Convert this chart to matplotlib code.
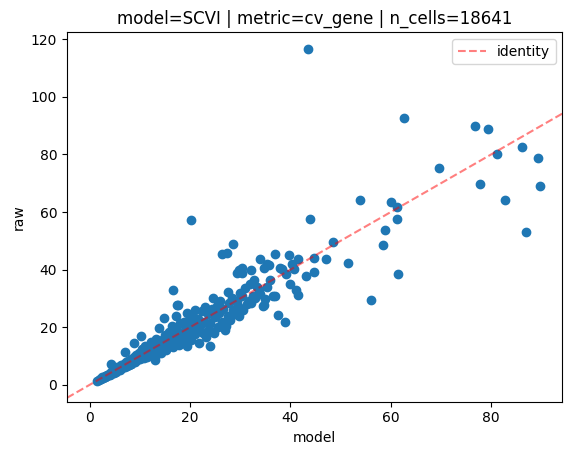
import matplotlib
matplotlib.use("Agg")
import matplotlib.pyplot as plt

# per-gene CV: model-reconstructed vs raw counts
model_low = [1.5, 1.8, 2.0, 2.2, 2.5, 2.7, 3.0, 3.1, 3.4, 3.5, 3.8, 4.0, 4.2, 4.3,
             4.6, 4.8, 5.0, 5.2, 5.5, 5.6, 5.9, 6.0, 6.3, 6.5, 6.8, 7.0, 7.2, 7.4,
             7.7, 7.9, 8.2, 8.3, 8.6, 8.8, 9.0, 9.3, 9.5, 9.8, 10.0, 4.3, 7.0, 5.7,
             3.1, 8.3]
raw_low = [1.5, 1.6, 2.2, 1.9, 2.6, 2.3, 3.1, 2.7, 3.6, 3.0, 3.9, 3.4, 4.6, 3.8,
           5.2, 4.2, 5.6, 4.6, 6.2, 5.0, 5.8, 5.3, 6.9, 5.7, 7.3, 6.2, 7.9, 6.6,
           8.4, 7.0, 9.1, 7.4, 8.2, 9.8, 8.0, 10.5, 8.5, 11.0, 9.0, 7.3, 11.3, 5.0,
           2.7, 7.3]

model_mid = [10.2, 8.9, 10.4, 10.6, 10.8, 11.0, 11.3, 11.5, 11.8, 12.0, 12.2, 12.5,
             12.8, 13.0, 13.1, 13.3, 13.5, 13.8, 14.0, 14.2, 14.5, 14.8, 14.8, 15.0,
             15.2, 15.5, 15.8, 16.0, 16.2, 16.5, 16.7, 16.8, 17.0, 17.3, 17.5, 17.5,
             17.8, 18.0, 18.2, 18.5, 18.8, 19.0, 19.2, 19.4, 19.4, 19.7, 20.0, 20.0,
             16.6, 17.6, 20.2]
raw_mid = [17.0, 14.7, 12.3, 10.0, 9.3, 13.5, 11.2, 9.6, 12.8, 10.5, 15.0, 11.5,
           13.6, 9.8, 8.5, 16.0, 12.2, 19.9, 14.0, 11.0, 15.5, 23.3, 13.0, 17.2,
           12.0, 14.5, 18.5, 13.5, 16.0, 20.5, 13.0, 17.5, 15.0, 23.9, 27.6, 19.0,
           14.0, 21.5, 16.5, 18.0, 22.0, 15.0, 20.0, 25.0, 13.6, 17.5, 22.5, 19.0,
           33.0, 27.7, 57.3]

model_high = [20.3, 20.5, 20.8, 21.0, 21.0, 21.3, 21.6, 21.9, 22.0, 22.3, 22.5, 22.8,
              23.0, 23.2, 23.5, 23.8, 24.0, 24.0, 24.3, 24.6, 24.8, 25.0, 25.3, 25.5,
              25.8, 26.0, 26.3, 26.3, 26.6, 27.0, 27.2, 27.4, 27.5, 27.5, 27.8, 28.0,
              28.3, 28.5, 28.6, 29.0, 29.3, 29.3, 29.6, 29.8, 29.8, 30.0, 30.3, 30.4,
              30.4, 30.6, 31.0, 31.3, 31.7, 32.0, 32.1, 32.1, 32.5, 32.8, 33.0, 33.4,
              33.7, 33.9, 34.0, 34.5, 34.7, 34.7, 35.0, 35.3, 35.3, 35.7, 36.0, 36.6,
              37.0, 37.0, 37.6, 37.9, 38.3, 38.9, 39.2, 39.7, 40.0, 40.8, 40.3, 41.2,
              41.5, 41.5]
raw_high = [15.5, 24.0, 21.0, 26.1, 17.5, 19.5, 23.0, 14.7, 20.5, 25.5, 18.0, 22.0,
            27.0, 16.5, 24.5, 19.5, 13.6, 21.5, 26.5, 30.1, 18.0, 23.5, 27.5, 20.0,
            25.0, 29.0, 22.0, 45.3, 26.5, 19.0, 20.4, 45.7, 32.4, 24.0, 28.5, 22.5,
            30.0, 48.9, 26.0, 24.5, 38.8, 29.0, 27.5, 39.8, 23.9, 32.0, 40.7, 38.7,
            30.7, 26.0, 33.5, 28.0, 29.0, 35.0, 39.8, 28.4, 31.0, 36.5, 30.0, 34.0,
            33.0, 43.8, 31.5, 27.3, 27.9, 40.7, 29.8, 42.1, 34.1, 41.5, 36.5, 30.7,
            45.5, 30.7, 24.1, 40.4, 40.2, 21.8, 38.5, 45.0, 34.9, 40.3, 41.9, 33.0,
            31.3, 43.6]

model_out = [43.6, 62.65, 76.7, 79.4, 86.1, 81.2, 89.4, 69.6, 77.7, 89.7, 82.8, 53.9,
             60.0, 61.2, 43.9, 61.3, 87.0, 58.9, 58.5, 48.4, 61.5, 47.1, 51.5, 44.8,
             44.8, 43.2, 56.0]
raw_out = [116.6, 92.5, 89.8, 88.9, 82.4, 80.0, 78.9, 75.2, 69.7, 69.0, 64.2, 64.2,
           63.5, 61.7, 57.7, 57.7, 52.9, 53.6, 48.4, 49.5, 38.6, 43.7, 42.2, 44.0,
           39.1, 37.9, 29.6]

model_vals = model_low + model_mid + model_high + model_out
raw_vals = raw_low + raw_mid + raw_high + raw_out

fig = plt.figure(figsize=(5.71, 4.55), dpi=100)
ax = fig.add_axes([67 / 571, 53.3 / 455, 495.5 / 571, 369.6 / 455])

ax.scatter(model_vals, raw_vals)
ax.axline((0, 0), slope=1, color="red", linestyle="--", alpha=0.5, label="identity")

ax.set_xlabel("model")
ax.set_ylabel("raw")
ax.set_title("model=SCVI | metric=cv_gene | n_cells=18641")
ax.legend(loc="upper right")

fig.savefig("out.png", dpi=100)
